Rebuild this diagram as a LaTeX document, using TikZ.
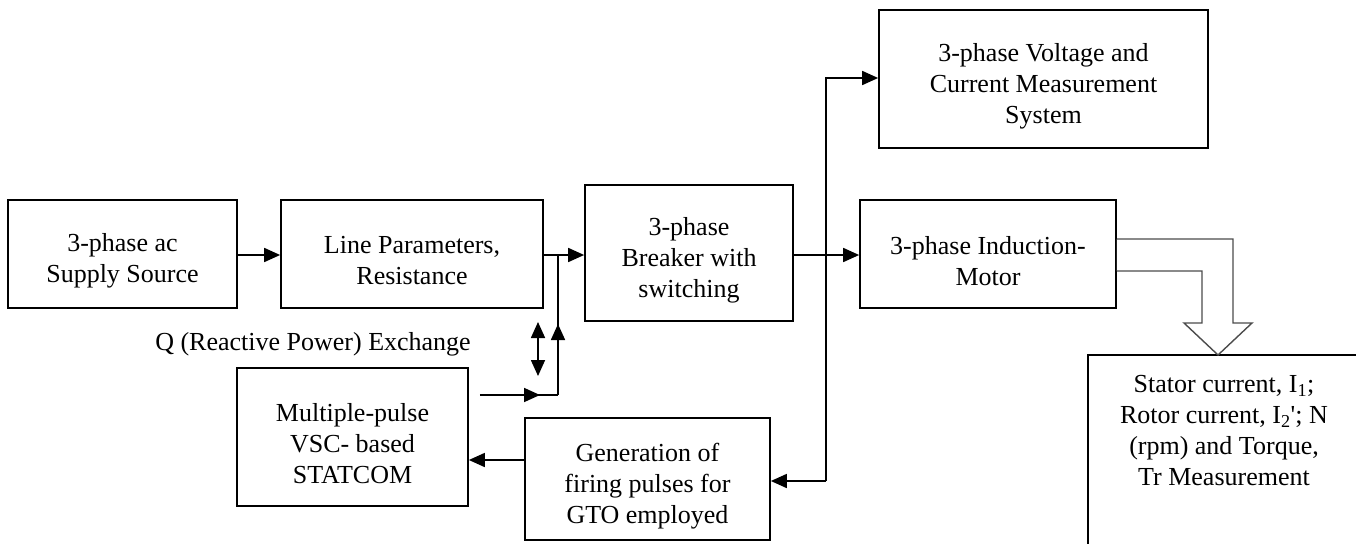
\documentclass[tikz,border=0pt]{standalone}
\usepackage{fontspec}
\setmainfont{Liberation Serif}
\usetikzlibrary{arrows.meta}
\begin{document}
\begin{tikzpicture}[x=1pt,y=-1pt,
  blk/.style={draw,line width=1.7pt,inner sep=0pt},
  arr/.style={line width=1.7pt,-{Triangle[length=16pt,width=14pt]}},
  ln/.style={line width=1.7pt},
  dbl/.style={line width=1.7pt,{Triangle[length=16pt,width=14pt]}-{Triangle[length=16pt,width=14pt]}},
  lbl/.style={font=\fontsize{26}{31}\selectfont,inner sep=0pt,align=center}]
\useasboundingbox (0,0) rectangle (1356,543);
\clip (0,0) rectangle (1356,543);
\fill[white] (0,0) rectangle (1356,543);
% blocks
\node[blk,minimum width=229pt,minimum height=108pt] (sup) at (122.5,254) {};
\node[blk,minimum width=262pt,minimum height=108pt] (lin) at (412,254) {};
\node[blk,minimum width=208pt,minimum height=136pt] (brk) at (689,253) {};
\node[blk,minimum width=329pt,minimum height=138pt] (mes) at (1043.5,79) {};
\node[blk,minimum width=256pt,minimum height=108pt] (mot) at (988,254) {};
\node[blk,minimum width=231pt,minimum height=138pt] (sta) at (352.5,437) {};
\node[blk,minimum width=245pt,minimum height=122pt] (gen) at (647.5,479) {};
\node[lbl] (supt) at ([yshift=-7pt]sup.center) {3-phase ac\\Supply Source};
\node[lbl] (lint) at ([yshift=-7pt]lin.center) {Line Parameters,\\Resistance};
\node[lbl] (brkt) at ([yshift=-7pt]brk.center) {3-phase\\Breaker with\\switching};
\node[lbl] (mest) at ([yshift=-7pt]mes.center) {3-phase Voltage and\\Current Measurement\\System};
\node[lbl] (mott) at ([yshift=-7pt]mot.center) {3-phase Induction-\\Motor};
\node[lbl] (stat) at ([yshift=-7pt]sta.center) {Multiple-pulse\\VSC- based\\STATCOM};
\node[lbl] (gent) at ([yshift=-7pt]gen.center) {Generation of\\firing pulses for\\GTO employed};
\draw[line width=1.7pt] (1370,570) -- (1088,570) -- (1088,355) -- (1370,355);
\node[lbl,anchor=north] (res) at (1224,375) {Stator current, I\textsubscript{1};\\Rotor current, I\textsubscript{2}\textquotesingle; N\\(rpm) and Torque,\\Tr Measurement};
\node[lbl,anchor=center] (q) at (313,344) {Q (Reactive Power) Exchange};
% connectors
\coordinate (j2) at (558,255);
\coordinate (j1) at (558,395);
\coordinate (v1) at (826,78);
\coordinate (v2) at (826,481);
\draw[arr] (sup.east |- 0,255) -- (lin.west |- 0,255);
\draw[arr] (lin.east |- j2) -- (brk.west |- j2);
\draw[arr] ([xshift=11pt]sta.east |- j1) -- (540,395);
\draw[ln] (530,395) -- (j1);
\draw[arr] (j1) -- (558,324);
\draw[ln] (558,335) -- (j2);
\draw[dbl] (538,322) -- (538,376);
\draw[arr] (brk.east |- 0,255) -- (mot.west |- 0,255);
\draw[arr] (v2) -- (v1) -- (mes.west |- v1);
\draw[arr] (v2) -- (gen.east |- v2);
\draw[arr] (gen.west |- 0,460) -- (sta.east |- 0,460);
% hollow arrow
\draw[line width=1.4pt,draw=black!70,fill=white,line join=miter]
  (mot.east |- 0,239) -- (1233,239) -- (1233,323) -- (1252,323) -- (1218,355)
  -- (1184,323) -- (1202,323) -- (1202,271) -- (mot.east |- 0,271);
\end{tikzpicture}
\end{document}
